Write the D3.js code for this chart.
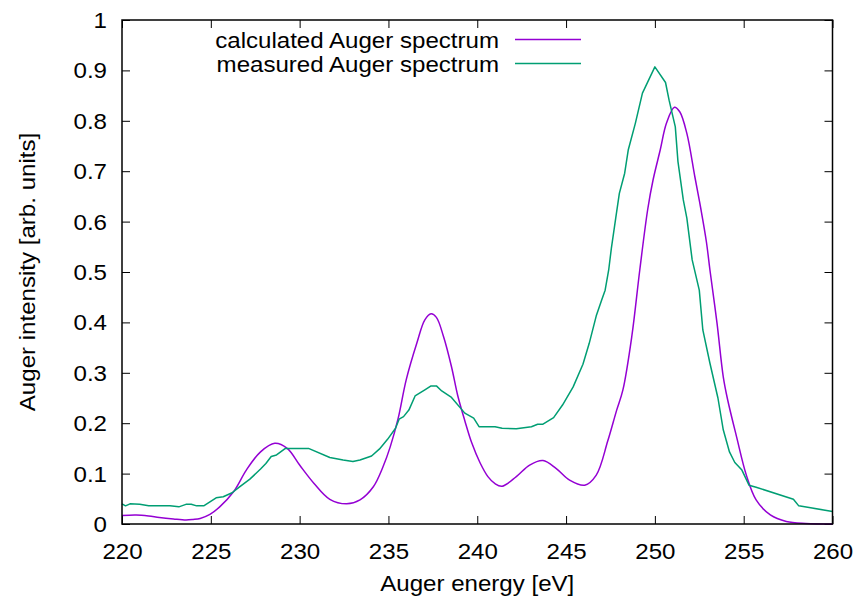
<!DOCTYPE html>
<html>
<head>
<meta charset="utf-8">
<script src="https://cdn.jsdelivr.net/npm/d3@7"></script>
<style>
  body { margin: 0; background: white; }
  text { font-family: "Liberation Sans", Arial, sans-serif; fill: black; }
</style>
</head>
<body>
<div id="plot"></div>
<script>
// spectra

const calcEnergy = [220.0, 220.8, 221.5, 222.1, 222.9, 223.6, 224.0, 224.4, 224.95, 225.5,
  226.3, 227.0, 227.8, 228.6, 229.3, 230.0, 230.8, 231.7, 232.65, 233.4,
  234.15, 234.7, 235.1, 235.55, 236.0, 236.6, 237.05, 237.4, 237.7, 238.1,
  238.55, 238.9, 239.3, 239.7, 240.15, 240.6, 241.0, 241.4, 242.2, 242.95,
  243.7, 244.45, 245.2, 246.05, 246.7, 247.35, 247.85, 248.2, 248.7, 249.15,
  249.6, 249.9, 250.3, 250.65, 251.1, 251.4, 251.8, 252.25, 252.6, 252.9,
  253.1, 253.5, 253.85, 254.1, 254.6, 255.15, 255.7, 256.5, 257.4, 258.5, 260.0];
const calcIntensity = [0.017, 0.018, 0.016, 0.013, 0.010, 0.008, 0.009, 0.011, 0.019, 0.034,
  0.065, 0.107, 0.143, 0.160, 0.150, 0.117, 0.081, 0.049, 0.040, 0.048,
  0.074, 0.114, 0.153, 0.210, 0.286, 0.359, 0.405, 0.417, 0.410, 0.372,
  0.312, 0.255, 0.205, 0.160, 0.122, 0.094, 0.080, 0.075, 0.094, 0.117,
  0.126, 0.110, 0.087, 0.077, 0.097, 0.165, 0.226, 0.266, 0.372, 0.504,
  0.625, 0.683, 0.742, 0.795, 0.827, 0.818, 0.775, 0.689, 0.623, 0.560,
  0.504, 0.398, 0.292, 0.246, 0.173, 0.097, 0.048, 0.018, 0.005, 0.001, 0.0];

const measEnergy = [220.0, 220.2, 220.45, 221.0, 221.5, 222.7, 223.2, 223.6, 223.9, 224.2,
  224.6, 224.95, 225.3, 225.7, 226.2, 226.6, 227.2, 227.8, 228.1, 228.4,
  228.7, 229.2, 230.5, 231.7, 232.45, 233.0, 233.4, 234.05, 234.5, 234.95,
  235.4, 235.6, 235.85, 236.15, 236.5, 237.05, 237.4, 237.7, 238.0, 238.55,
  239.3, 239.8, 240.1, 241.0, 241.4, 242.2, 243.05, 243.4, 243.7, 244.3,
  244.8, 245.4, 245.95, 246.3, 246.7, 247.0, 247.2, 247.4, 247.55, 247.8,
  248.0, 248.3, 248.5, 248.9, 249.3, 250.0, 250.6, 250.8, 251.15, 251.3,
  251.6, 251.8, 252.1, 252.5, 252.7, 253.1, 253.55, 253.85, 254.2, 254.5,
  254.9, 255.3, 255.7, 257.8, 258.1, 260.0];
const measIntensity = [0.040, 0.036, 0.040, 0.039, 0.036, 0.036, 0.034, 0.039, 0.039, 0.036,
  0.036, 0.044, 0.052, 0.054, 0.062, 0.073, 0.089, 0.109, 0.120, 0.134,
  0.137, 0.150, 0.150, 0.132, 0.127, 0.124, 0.127, 0.135, 0.149, 0.168,
  0.190, 0.208, 0.213, 0.226, 0.254, 0.266, 0.274, 0.274, 0.264, 0.251,
  0.220, 0.210, 0.193, 0.193, 0.190, 0.189, 0.193, 0.198, 0.198, 0.211,
  0.236, 0.272, 0.317, 0.358, 0.413, 0.444, 0.464, 0.504, 0.547, 0.608,
  0.656, 0.696, 0.742, 0.795, 0.855, 0.907, 0.876, 0.841, 0.788, 0.719,
  0.643, 0.607, 0.524, 0.464, 0.385, 0.319, 0.250, 0.187, 0.143, 0.122,
  0.107, 0.077, 0.073, 0.049, 0.036, 0.025];

const xTicks = [220, 225, 230, 235, 240, 245, 250, 255, 260];
const yTicks = [0, 0.1, 0.2, 0.3, 0.4, 0.5, 0.6, 0.7, 0.8, 0.9, 1];
const seriesNames = ["calculated Auger spectrum", "measured Auger spectrum"];
const seriesColors = ["#9400d3", "#009e73"];

const w = 860;
const h = 598;
const margin = {top: 20, right: 27.5, bottom: 74, left: 122};
const innerWidth = w - margin.left - margin.right;
const innerHeight = h - margin.top - margin.bottom;
const fontSize = 21.5;
const stretch = 1.12;  // the original font runs wider than Liberation Sans

const svg = d3.select("div#plot")
  .append("svg")
  .attr("width", w)
  .attr("height", h);

svg.append("rect")
  .attr("width", w)
  .attr("height", h)
  .attr("fill", "white");

const xScale = d3.scaleLinear().domain([220, 260]).range([0, innerWidth]);
const yScale = d3.scaleLinear().domain([0, 1]).range([innerHeight, 0]);

// widen a text without moving its anchor
function widen(sel) {
  sel.each(function () {
    const len = this.getComputedTextLength();
    if (len > 0) {
      d3.select(this)
        .attr("textLength", len * stretch)
        .attr("lengthAdjust", "spacingAndGlyphs");
    }
  });
}

const g = svg.append("g")
  .attr("transform", `translate(${margin.left}, ${margin.top})`);

// axes, ticks pointing inwards like gnuplot
const fmtY = d => d === 0 ? "0" : d === 1 ? "1" : d3.format(".1f")(d);

const xAxis = g.append("g")
  .attr("transform", `translate(0, ${innerHeight})`)
  .call(d3.axisBottom(xScale).tickValues(xTicks).tickSize(-8).tickFormat(d3.format("d")));
g.append("g")
  .attr("class", "mirror")
  .call(d3.axisTop(xScale).tickValues(xTicks).tickSize(-8));
const yAxis = g.append("g")
  .call(d3.axisLeft(yScale).tickValues(yTicks).tickSize(-8).tickFormat(fmtY));
g.append("g")
  .attr("class", "mirror")
  .attr("transform", `translate(${innerWidth}, 0)`)
  .call(d3.axisRight(yScale).tickValues(yTicks).tickSize(-8));

g.selectAll("g")
  .attr("font-size", null)
  .attr("font-family", null);
g.selectAll(".domain").remove();
g.selectAll(".mirror .tick text").remove();
g.selectAll(".tick line").attr("stroke", "black").attr("stroke-width", 1);

xAxis.selectAll(".tick text")
  .attr("y", 35)
  .attr("dy", null);
yAxis.selectAll(".tick text")
  .attr("x", -15)
  .attr("dy", null)
  .attr("y", 7.5);
g.selectAll(".tick text")
  .style("font-size", fontSize + "px")
  .call(widen);

// curves
const calcLine = d3.line()
  .x(d => xScale(d[0]))
  .y(d => yScale(d[1]))
  .curve(d3.curveCatmullRom.alpha(0.5));
const measLine = d3.line()
  .x(d => xScale(d[0]))
  .y(d => yScale(d[1]));

g.append("path")
  .datum(d3.zip(calcEnergy, calcIntensity))
  .attr("fill", "none")
  .attr("stroke", seriesColors[0])
  .attr("stroke-width", 1.5)
  .attr("d", calcLine);

g.append("path")
  .datum(d3.zip(measEnergy, measIntensity))
  .attr("fill", "none")
  .attr("stroke", seriesColors[1])
  .attr("stroke-width", 1.5)
  .attr("stroke-linejoin", "round")
  .attr("d", measLine);

// frame
g.append("rect")
  .attr("width", innerWidth)
  .attr("height", innerHeight)
  .attr("fill", "none")
  .attr("stroke", "black")
  .attr("stroke-width", 1.5);

// legend
const legend = svg.append("g");
seriesNames.forEach((name, i) => {
  const y = 40 + i * 24;
  legend.append("text")
    .attr("x", 499)
    .attr("y", y + 7.5)
    .attr("text-anchor", "end")
    .style("font-size", fontSize + "px")
    .text(name)
    .call(widen);
  legend.append("line")
    .attr("x1", 515).attr("x2", 581)
    .attr("y1", y - 0.5).attr("y2", y - 0.5)
    .attr("stroke", seriesColors[i])
    .attr("stroke-width", 1.5);
});

// axis titles
svg.append("text")
  .attr("x", margin.left + innerWidth / 2)
  .attr("y", 591)
  .attr("text-anchor", "middle")
  .style("font-size", fontSize + "px")
  .text("Auger energy [eV]")
  .call(widen);

svg.append("text")
  .attr("transform", `translate(35, ${margin.top + innerHeight / 2}) rotate(-90)`)
  .attr("text-anchor", "middle")
  .style("font-size", fontSize + "px")
  .text("Auger intensity [arb. units]")
  .call(widen);
</script>
</body>
</html>
